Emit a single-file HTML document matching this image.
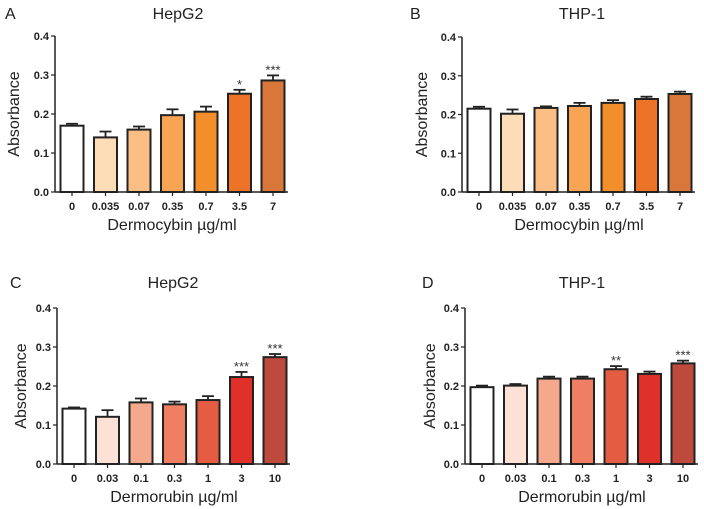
<!DOCTYPE html>
<html><head><meta charset="utf-8">
<style>
html,body{margin:0;padding:0;background:#fff;}
svg{display:block;font-family:"Liberation Sans",Arial,sans-serif;}
</style></head>
<body>
<svg id="fig" width="704" height="509" viewBox="0 0 704 509" xmlns="http://www.w3.org/2000/svg"></svg>
<script>
// Data arrays
const catsA = ["0","0.035","0.07","0.35","0.7","3.5","7"];
const catsC = ["0","0.03","0.1","0.3","1","3","10"];
const valsA = [0.170,0.140,0.160,0.197,0.206,0.252,0.286];
const errsA = [0.005,0.015,0.008,0.015,0.013,0.010,0.013];
const starsA = ["","","","","","*","***"];
const valsB = [0.215,0.202,0.217,0.222,0.230,0.240,0.253];
const errsB = [0.005,0.011,0.004,0.008,0.007,0.006,0.006];
const starsB = ["","","","","","",""];
const valsC = [0.142,0.121,0.158,0.153,0.164,0.223,0.274];
const errsC = [0.003,0.017,0.010,0.007,0.010,0.013,0.008];
const starsC = ["","","","","","***","***"];
const valsD = [0.197,0.201,0.219,0.219,0.243,0.231,0.258];
const errsD = [0.004,0.004,0.005,0.005,0.008,0.006,0.007];
const starsD = ["","","","","**","","***"];
const yTicks = [0,0.1,0.2,0.3,0.4];
const yTickLabels = ["0.0","0.1","0.2","0.3","0.4"];
const orange = ["#ffffff","#fddcb8","#fbbf85","#f7a455","#f28f2a","#ec7328","#d9773a"];
const red = ["#ffffff","#fde0d6","#f4a88c","#ef7e63","#e45c42","#e0302a","#bd4a3c"];

const NS="http://www.w3.org/2000/svg";
const svg=document.getElementById('fig');
function mk(tag,attrs,parent,text){const e=document.createElementNS(NS,tag);for(const k in attrs)e.setAttribute(k,attrs[k]);if(text!==undefined)e.textContent=text;(parent||svg).appendChild(e);return e;}

const panels=[
 {id:"a",letter:"A",lx:5,title:"HepG2",tx:178,ty:19,ax:55,y0:192,y4:36,ylx:15,cats:catsA,vals:valsA,errs:errsA,stars:starsA,colors:orange,xt:"Dermocybin µg/ml"},
 {id:"b",letter:"B",lx:410,title:"THP-1",tx:582,ty:19,ax:462,y0:192,y4:37,ylx:423,cats:catsA,vals:valsB,errs:errsB,stars:starsB,colors:orange,xt:"Dermocybin µg/ml"},
 {id:"c",letter:"C",lx:10,title:"HepG2",tx:173,ty:288,ax:57,y0:464,y4:308,ylx:22,cats:catsC,vals:valsC,errs:errsC,stars:starsC,colors:red,xt:"Dermorubin µg/ml"},
 {id:"d",letter:"D",lx:422,title:"THP-1",tx:582,ty:288,ax:465,y0:464,y4:308,ylx:431,cats:catsC,vals:valsD,errs:errsD,stars:starsD,colors:red,xt:"Dermorubin µg/ml"}
];

panels.forEach(p=>{
 const g=mk('g',{});
 
 
 const y=v=>p.y0-(v/0.4)*(p.y0-p.y4);
 const step=33.5, off=17, bw=23;
 const xc=i=>p.ax+off+i*step;
 const axEnd=p.ax+233;
 let t=mk('text',{x:p.lx,y:p.ty,'font-size':16,fill:'#222'},g,p.letter);
 
 
 t=mk('text',{x:p.tx,y:p.ty,'font-size':16,fill:'#222','text-anchor':'middle'},g,p.title);
 
 
 let l=mk('line',{x1:p.ax,y1:p.y4,x2:p.ax,y2:p.y0,stroke:'#222','stroke-width':1.5},g);
 
 
 yTicks.forEach((v,i)=>{
  mk('line',{x1:p.ax-4,y1:y(v),x2:p.ax,y2:y(v),stroke:'#222','stroke-width':1.2},g);
  const tl=mk('text',{x:p.ax-6,y:y(v)+4,'font-size':11,'font-weight':'bold',fill:'#222','text-anchor':'end'},g,yTickLabels[i]);
  
  
 });
 const yl=mk('text',{x:p.ylx,y:(p.y0+p.y4)/2,'font-size':16,fill:'#222','text-anchor':'middle',transform:`rotate(-90 ${p.ylx} ${(p.y0+p.y4)/2})`,'dominant-baseline':'middle'},g,"Absorbance");
 
 
 p.vals.forEach((v,i)=>{
  const cx=xc(i), top=y(v), et=y(v+p.errs[i]);
  mk('line',{x1:cx,y1:top,x2:cx,y2:et,stroke:'#222','stroke-width':1.8},g);
  mk('line',{x1:cx-6,y1:et,x2:cx+6,y2:et,stroke:'#222','stroke-width':1.8},g);
  const r=mk('rect',{x:cx-bw/2,y:top,width:bw,height:p.y0-top,fill:p.colors[i],stroke:'#222','stroke-width':2},g);
  
  
  if(p.stars[i]){
   const s=mk('text',{x:cx,y:et-1,'font-size':13,fill:'#333','text-anchor':'middle'},g,p.stars[i]);
   
   
  }
  mk('line',{x1:cx,y1:p.y0,x2:cx,y2:p.y0+4,stroke:'#222','stroke-width':1.2},g);
  const xl=mk('text',{x:cx,y:p.y0+18,'font-size':11,'font-weight':'bold',fill:'#222','text-anchor':'middle'},g,p.cats[i]);
  
  
 });
 l=mk('line',{x1:p.ax,y1:p.y0,x2:axEnd,y2:p.y0,stroke:'#222','stroke-width':1.5},g);
 
 
 const xt=mk('text',{x:p.ax+117,y:p.y0+38,'font-size':16,fill:'#222','text-anchor':'middle'},g,p.xt);
 
 
});
</script>
</body></html>
